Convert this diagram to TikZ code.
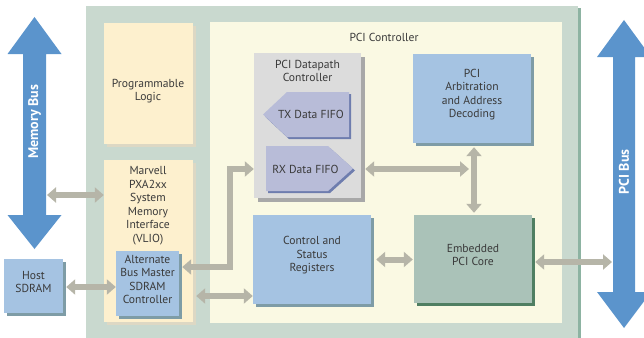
\documentclass[tikz,border=0pt]{standalone}
\usepackage{fontspec}
\setmainfont{PT Sans}
\usetikzlibrary{arrows.meta,calc,fit,shadows}

\definecolor{panel}{HTML}{C9D9CF}
\definecolor{panelsh}{HTML}{8DB3A2}
\definecolor{ctrlbg}{HTML}{FAF9E3}
\definecolor{cream}{HTML}{FDF0CE}
\definecolor{creamsh}{HTML}{DDD8C4}
\definecolor{bluebox}{HTML}{A5C3E2}
\definecolor{bluesh}{HTML}{7E9CA6}
\definecolor{greybox}{HTML}{DCDCDC}
\definecolor{greysh}{HTML}{A8A8A8}
\definecolor{fifo}{HTML}{B8BCD8}
\definecolor{fifosh}{HTML}{6E7DAE}
\definecolor{corebox}{HTML}{AAC2B8}
\definecolor{coresh}{HTML}{4F7F62}
\definecolor{busblue}{HTML}{5B94CC}
\definecolor{link}{HTML}{B6B5A8}
\definecolor{ink}{HTML}{3A3A3A}

\begin{document}
\begin{tikzpicture}[x=1pt,y=-1pt,
  txt/.style={font=\fontsize{11.6}{13.5}\selectfont, text=ink, align=center},
  box/.style={inner sep=0pt, fill=#1, font=\fontsize{11.6}{13.5}\selectfont, text=ink, align=center},
  sh/.style={general shadow={fill=#1, shadow xshift=3pt, shadow yshift=-3pt}},
  link2/.style={draw=link, line width=6pt,
    arrows={Triangle[width=15pt,length=9pt]-Triangle[width=15pt,length=9pt]}},
  buslabel/.style={font=\fontsize{14}{16}\selectfont\bfseries, text=white, rotate=90, inner sep=0pt}]
\useasboundingbox (0,0) rectangle (644,337);

% board and controller area
\node[box=panel, general shadow={fill=panelsh, shadow xshift=2.5pt, shadow yshift=-2.5pt},
      fit={(86,6)(578,345)}] (board) {};
\node[box=ctrlbg, fit={(210,22)(562,323)}] (ctrl) {};
\node[txt] (t-ctrl) at (384,37.5) {PCI Controller};

% left column
\node[box=cream, sh=creamsh, fit={(104,23)(193,144)}] (prog) {};
\node[txt] (t-prog) at (148,91) {Programmable\\Logic};
\node[box=cream, sh=creamsh, fit={(104,160)(193,322)}] (marvell) {};
\node[txt] (t-marvell) at (148,205.5) {Marvell\\PXA2xx\\System\\Memory\\Interface\\(VLIO)};
\node[box=bluebox, sh=bluesh, fit={(116,251)(179,316)}] (alt) {Alternate\\Bus Master\\SDRAM\\Controller};
\node[box=bluebox, sh=bluesh, fit={(4,259)(63,313)}] (host) {Host\\SDRAM};

% datapath controller with its FIFOs
\node[box=greybox, general shadow={fill=greysh, shadow xshift=4pt, shadow yshift=-4pt},
      fit={(254,53)(361,198)}] (dp) {};
\node[txt] (t-dp) at (307.5,71) {PCI Datapath\\Controller};
\fill[fifosh] (265,116.5) -- (289,94) -- (351,94) -- (351,139) -- (289,139) -- cycle;
\fill[fifo] (263,114.5) -- (287,92) -- (349,92) -- (349,137) -- (287,137) -- cycle;
\node[txt] (t-tx) at (311,114) {TX Data FIFO};
\fill[fifosh] (268,148) -- (330,148) -- (355,170.5) -- (330,193) -- (268,193) -- cycle;
\fill[fifo] (266,146) -- (328,146) -- (353,168.5) -- (328,191) -- (266,191) -- cycle;
\node[txt] (t-rx) at (305.5,169) {RX Data FIFO};

% remaining controller blocks
\node[box=bluebox, sh=bluesh, fit={(253,215)(371,304)}] (csr) {Control and\\Status\\Registers};
\node[box=bluebox, sh=bluesh, fit={(413,54)(531,143)}] (arb) {PCI\\Arbitration\\and Address\\Decoding};
\node[box=corebox, general shadow={fill=coresh, shadow xshift=2.5pt, shadow yshift=-2.5pt},
      fit={(414,215)(532,303)}] (core) {Embedded\\PCI Core};

% bus arrows
\fill[busblue] (34.5,17) -- (61.5,54) -- (46,54) -- (46,215) -- (61.5,215) -- (34.5,249)
  -- (7.5,215) -- (23,215) -- (23,54) -- (7.5,54) -- cycle;
\node[buslabel] (membus) at (34.5,122) {Memory Bus};
\fill[busblue] (624,20) -- (651,57) -- (635,57) -- (635,292) -- (651,292) -- (624,328)
  -- (597,292) -- (613,292) -- (613,57) -- (597,57) -- cycle;
\node[buslabel] (pcibus) at (624,172) {PCI Bus};

% connection points on the buses and the elbow
\coordinate (memport) at (47,195);
\coordinate (pciport) at (612,262);
\coordinate (elbow) at (230,169);
\coordinate (vjoin) at (469,169);

% connectors
\draw[link2] (memport) -- (memport -| marvell.west);
\draw[link2] ($(host.east)+(3,1)$) -- ($(host.east -| alt.west)+(0,1)$);
\draw[link2] ($(alt.east |- 0,267)+(3,0)$) -| (elbow) -- (elbow -| dp.west);
\draw[link2] ($(marvell.east |- 0,296)+(3,0)$) -- (csr.west |- 0,296);
\draw[link2] ($(csr.east)+(5,0)$) -- ($(csr.east -| core.west)+(-1,0)$);
\draw[link2] ($(dp.east |- vjoin)+(4,0)$) -- (vjoin);
\draw[link2] ($(arb.south)+(2,4)$) -- ($(core.north)+(1,-2)$);
\draw[link2] ($(core.east |- pciport)+(3,0)$) -- (pciport);
\end{tikzpicture}
\end{document}
